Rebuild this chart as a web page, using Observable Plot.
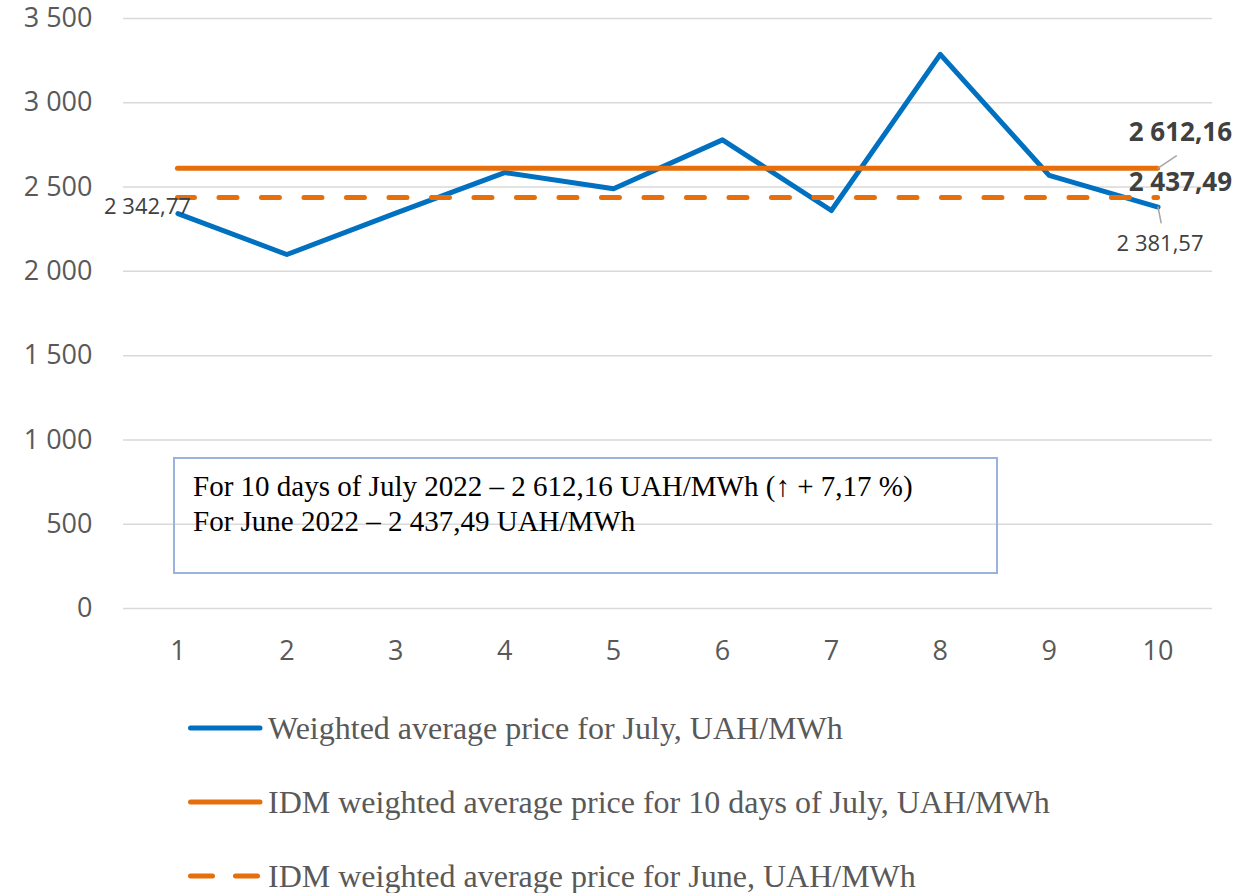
<!DOCTYPE html>
<html>
<head>
<meta charset="utf-8">
<script src="https://cdn.jsdelivr.net/npm/d3@7"></script>
<script src="https://cdn.jsdelivr.net/npm/@observablehq/plot@0.6"></script>
<style>
  html, body { margin: 0; padding: 0; background: #fff; }
  #wrap { position: relative; width: 1234px; height: 893px; overflow: hidden; }
  #chart { position: absolute; left: 0; top: 0; }
  #box {
    position: absolute; left: 173px; top: 457px; width: 821px; height: 113px;
    border: 2px solid #98b4de; box-sizing: content-box;
    font-family: "Liberation Serif", "Times New Roman", serif; font-size: 29px; line-height: 35px;
    color: #000; padding: 0;
  }
  #box .inner { position: absolute; left: 18px; top: 10px; white-space: nowrap; }
  .leg { position: absolute; left: 186px; height: 40px; display: flex; align-items: center;
    font-family: "Liberation Serif", "Times New Roman", serif; font-size: 32px; color: #595959; white-space: nowrap; }
  .leg svg { display: block; margin-right: 4px; }
</style>
</head>
<body>
<div id="wrap">
  <div id="chart"></div>
  <div id="box"><div class="inner"></div></div>
  <div id="legend"></div>
</div>
<script>
// ---- data ----
const days = [1, 2, 3, 4, 5, 6, 7, 8, 9, 10];
const julyPrices = [2342.77, 2100, 2345, 2586, 2490, 2780, 2361, 3287, 2569, 2381.57];
const avgJuly10 = 2612.16;
const avgJune = 2437.49;
const yTicks = [0, 500, 1000, 1500, 2000, 2500, 3000, 3500];
const seriesNames = [
  "Weighted average price for July, UAH/MWh",
  "IDM weighted average price for 10 days of July, UAH/MWh",
  "IDM weighted average price for June, UAH/MWh"
];
const boxLines = [
  "For 10 days of July 2022 – 2 612,16 UAH/MWh (↑ + 7,17 %)",
  "For June 2022 – 2 437,49 UAH/MWh"
];
const colors = { blue: "#0070C0", orange: "#E66F0C" };

// ---- helpers ----
const fmtInt = d => d3.format(",")(d).replace(/,/g, " ");
const fmtDec = d => d3.format(",.2f")(d).replace(/,/g, " ").replace(".", ",");

const series = days.map((d, i) => ({ day: d, price: julyPrices[i] }));
const first = days[0], last = days[days.length - 1];

const leaderShape = { draw(context, l) { context.moveTo(0, 0); context.lineTo(0, -l); } };

const chart = Plot.plot({
  width: 1234,
  height: 680,
  marginLeft: 123,
  marginRight: 22,
  marginTop: 18,
  marginBottom: 72,
  style: { fontFamily: "'Open Sans', sans-serif", background: "transparent", color: "#595959", overflow: "visible" },
  x: { domain: [0.5, 10.5], label: null },
  y: { domain: [0, 3500], label: null },
  marks: [
    Plot.gridY(yTicks, { stroke: "#d9d9d9", strokeOpacity: 1, strokeWidth: 1.5 }),
    Plot.axisY(yTicks, { tickSize: 0, tickPadding: 31, tickFormat: fmtInt, fontSize: 27, fill: "#595959", label: null }),
    Plot.axisX(days, { tickSize: 0, tickPadding: 32, tickFormat: d => String(d), fontSize: 27, fill: "#595959", label: null }),
    Plot.line(series, { x: "day", y: "price", stroke: colors.blue, strokeWidth: 5, strokeLinejoin: "round", strokeLinecap: "round" }),
    Plot.ruleY([avgJune], { x1: first, x2: last, stroke: colors.orange, strokeWidth: 5, strokeLinecap: "round", strokeDasharray: "18,24.5", strokeDashoffset: 1 }),
    Plot.ruleY([avgJuly10], { x1: first, x2: last, stroke: colors.orange, strokeWidth: 5, strokeLinecap: "round" }),
    // leader lines
    Plot.vector([{ x: last, y: avgJuly10 }], { x: "x", y: "y", length: 22, rotate: 56, anchor: "start", shape: leaderShape, stroke: "#a6a6a6", strokeWidth: 1.5 }),
    Plot.vector([{ x: last, y: julyPrices[julyPrices.length - 1] }], { x: "x", y: "y", length: 16, rotate: 169, anchor: "start", shape: leaderShape, stroke: "#a6a6a6", strokeWidth: 1.5 }),
    // data labels
    Plot.text([series[0]], { x: "day", y: "price", text: d => fmtDec(d.price), textAnchor: "end", dx: 13, dy: -7, fontSize: 22, fill: "#404040" }),
    Plot.text([series[series.length - 1]], { x: "day", y: "price", text: d => fmtDec(d.price), textAnchor: "middle", dx: 2, dy: 37, fontSize: 22, fill: "#404040" }),
    Plot.text([avgJuly10], { x: last, y: d => d, text: d => fmtDec(d), textAnchor: "end", dx: 74, dy: -35, fontSize: 26, fontWeight: "bold", fill: "#404040" }),
    Plot.text([avgJune], { x: last, y: d => d, text: d => fmtDec(d), textAnchor: "end", dx: 74, dy: -15, fontSize: 26, fontWeight: "bold", fill: "#404040" })
  ]
});
document.getElementById("chart").appendChild(chart);

// annotation box
document.querySelector("#box .inner").innerHTML = boxLines.map(t => `<div>${t}</div>`).join("");

// legend
const legendRows = [
  { name: seriesNames[0], color: colors.blue, dash: null, top: 728 },
  { name: seriesNames[1], color: colors.orange, dash: null, top: 802 },
  { name: seriesNames[2], color: colors.orange, dash: "22,23", top: 876 }
];
const legend = document.getElementById("legend");
legendRows.forEach(r => {
  const div = document.createElement("div");
  div.className = "leg";
  div.style.top = (r.top - 20) + "px";
  div.innerHTML = `<svg width="78" height="12"><line x1="4.5" y1="6" x2="74" y2="6" stroke="${r.color}" stroke-width="5" stroke-linecap="round" ${r.dash ? `stroke-dasharray="${r.dash}"` : ""}/></svg><span>${r.name}</span>`;
  legend.appendChild(div);
});
</script>
</body>
</html>
